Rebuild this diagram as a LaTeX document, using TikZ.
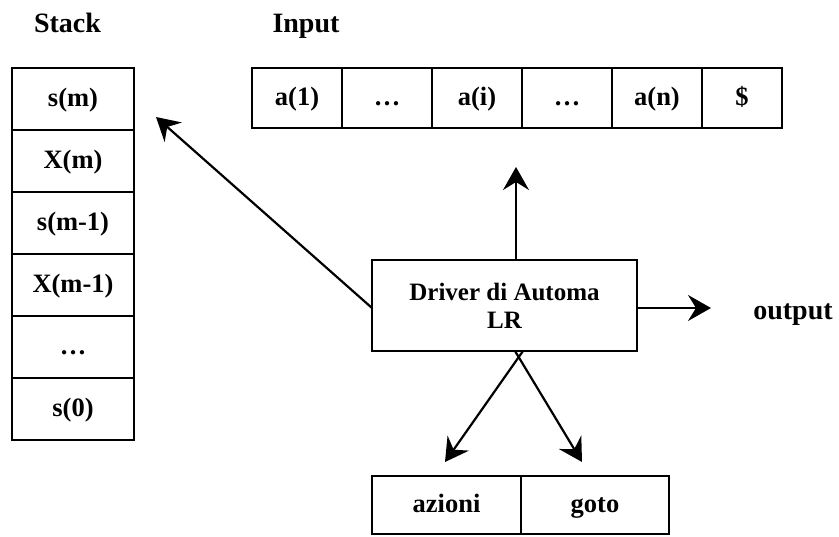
\documentclass[tikz,border=0pt]{standalone}
\usepackage{fontspec}
\setmainfont{Liberation Serif}
\usetikzlibrary{arrows.meta}

\begin{document}
\begin{tikzpicture}[x=1pt,y=-1pt,
  txt/.style={font=\fontsize{26.5}{30}\selectfont\bfseries, inner sep=0pt},
  big/.style={txt, font=\fontsize{28}{32}\selectfont\bfseries},
  box/.style={txt, draw, line width=2pt, align=center},
  cell/.style={box, text height=19.5pt, text depth=4.5pt},
  stk/.style={cell, minimum width=122pt, minimum height=62pt},
  inp/.style={cell, minimum width=90pt, minimum height=60pt},
  tab/.style={cell, minimum height=58pt},
  arr/.style={line width=2.2pt, -{Stealth[length=23pt,width=26pt,inset=8pt]}}
]
\useasboundingbox (0,0) rectangle (839,537);

% titles
\node[big, anchor=base] (stacktitle) at (67.5,33) {Stack};
\node[big, anchor=base] (inputtitle) at (306,33) {Input};

% stack column
\node[stk] (s1) at (73,99)  {s(m)};
\node[stk] (s2) at (73,161) {X(m)};
\node[stk] (s3) at (73,223) {s(m-1)};
\node[stk] (s4) at (73,285) {X(m-1)};
\node[stk] (s5) at (73,347) {\dots};
\node[stk] (s6) at (73,409) {s(0)};

% input tape
\node[inp] (i1) at (297,98) {a(1)};
\node[inp] (i2) at (387,98) {\dots};
\node[inp] (i3) at (477,98) {a(i)};
\node[inp] (i4) at (567,98) {\dots};
\node[inp] (i5) at (657,98) {a(n)};
\node[inp, minimum width=80pt] (i6) at (742,98) {\$};

% driver
\node[box, font=\fontsize{25}{28}\selectfont\bfseries,
      minimum width=265pt, minimum height=91pt] (drv) at (504.5,305.5)
  {Driver di Automa\\LR};

% output label
\node[big, anchor=base] (out) at (793,320) {output};

% parsing table
\node[tab, minimum width=149pt] (az) at (446.5,505) {azioni};
\node[tab, minimum width=148pt] (gt) at (595,505) {goto};

% arrow ends
\coordinate (upend) at (516,167);
\coordinate (upstart) at (516,260);
\coordinate (stkend) at (156,117);
\coordinate (outend) at (711,308);
\coordinate (azend) at (445,462);
\coordinate (gtend) at (582,462);
\coordinate (xl) at (523,351);
\coordinate (xr) at (515,351);
\coordinate (lft) at (372,308);
\coordinate (rgt) at (637,308);

\draw[arr] (upstart) -- (upend);
\draw[arr] (lft) -- (stkend);
\draw[arr] (rgt) -- (outend);
\draw[arr] (xl) -- (azend);
\draw[arr] (xr) -- (gtend);
\end{tikzpicture}
\end{document}
